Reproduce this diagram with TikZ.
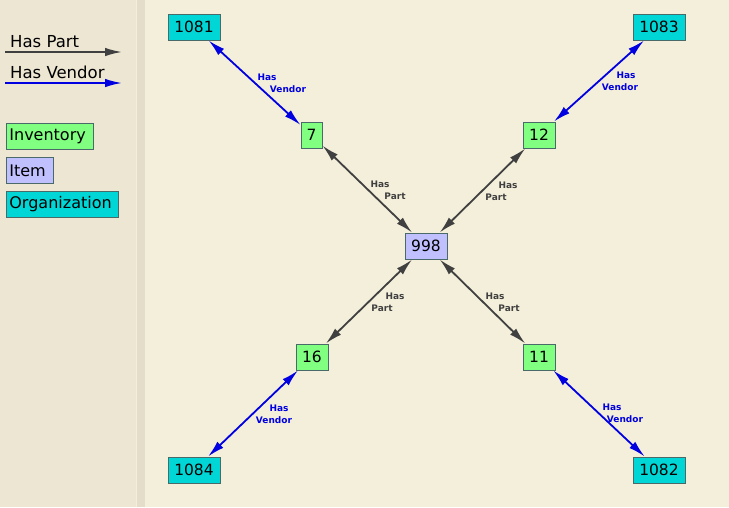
\documentclass[tikz,border=0pt]{standalone}
\usepackage{fontspec}
\setmainfont{DejaVu Sans}
\usetikzlibrary{arrows.meta}
\definecolor{panelbg}{HTML}{EDE6D2}
\definecolor{stripbg}{HTML}{E4DDC9}
\definecolor{mainbg}{HTML}{F4EFDA}
\definecolor{invgreen}{HTML}{80FF80}
\definecolor{itemblue}{HTML}{C0C0FF}
\definecolor{orgcyan}{HTML}{00D6D6}
\definecolor{partgray}{HTML}{404040}
\definecolor{vendblue}{HTML}{0000E0}
\definecolor{boxedge}{HTML}{4A6A6A}
\tikzset{
  nbox/.style={draw=boxedge, line width=0.8pt, inner sep=0pt, minimum height=26pt,
    font=\fontsize{15.5}{17}\selectfont, text=black},
  inv/.style={nbox, fill=invgreen},
  itm/.style={nbox, fill=itemblue},
  org/.style={nbox, fill=orgcyan, minimum width=52pt},
  partedge/.style={draw=partgray, line width=1.8pt, {Latex[length=17pt,width=8.5pt]}-{Latex[length=17pt,width=8.5pt]}},
  vendedge/.style={draw=vendblue, line width=1.8pt, {Latex[length=17pt,width=8.5pt]}-{Latex[length=17pt,width=8.5pt]}},
  elab/.style={font=\bfseries\fontsize{9}{10}\selectfont, inner sep=0pt},
  plab/.style={elab, text=partgray},
  vlab/.style={elab, text=vendblue},
  legtext/.style={font=\fontsize{16.5}{18}\selectfont, anchor=base west, inner sep=0pt, text=black},
  legbox/.style={nbox, anchor=north west, minimum height=26pt, font=\fontsize{16}{18}\selectfont, text width=#1, inner xsep=3pt, align=left},
}
\begin{document}
\begin{tikzpicture}[x=1pt,y=-1pt]
\useasboundingbox (0,0) rectangle (729,507);
\fill[mainbg] (0,0) rectangle (729,507);
\fill[panelbg] (0,0) rectangle (136,507);
\fill[stripbg] (137,0) rectangle (145,507);
% legend
\node[legtext] (lp) at (10,47) {Has Part};
\coordinate (lp1) at (5,52);
\coordinate (lp2) at (122,52);
\draw[draw=partgray, line width=1.8pt, -{Latex[length=17pt,width=8.5pt]}] (lp1) -- (lp2);
\node[legtext] (lv) at (10,78) {Has Vendor};
\coordinate (lv1) at (5,83);
\coordinate (lv2) at (122,83);
\draw[draw=vendblue, line width=1.8pt, -{Latex[length=17pt,width=8.5pt]}] (lv1) -- (lv2);
\node[legbox=81pt, fill=invgreen] (lgi) at (6,123) {Inventory};
\node[legbox=41pt, fill=itemblue] (lgt) at (6,157) {Item};
\node[legbox=106pt, fill=orgcyan] (lgo) at (6,191) {Organization};
% nodes
\node[org] (n1081) at (194,27) {1081};
\node[org] (n1083) at (659,27) {1083};
\node[org] (n1084) at (194,470) {1084};
\node[org] (n1082) at (659,470) {1082};
\node[inv, minimum width=21pt] (n7) at (311.5,135) {7};
\node[inv, minimum width=32pt] (n12) at (539,135) {12};
\node[inv, minimum width=32pt] (n16) at (312,357) {16};
\node[inv, minimum width=32pt] (n11) at (539,357) {11};
\node[itm, minimum width=42pt] (n998) at (426,246) {998};
% edges
\draw[vendedge] (n1081) -- (n7);
\draw[vendedge] (n1083) -- (n12);
\draw[vendedge] (n1084) -- (n16);
\draw[vendedge] (n1082) -- (n11);
\draw[partedge] (n7) -- (n998);
\draw[partedge] (n12) -- (n998);
\draw[partedge] (n16) -- (n998);
\draw[partedge] (n11) -- (n998);
% edge labels
\node[plab] (l1a) at (380,184) {Has};
\node[plab] (l1b) at (395,196) {Part};
\node[plab] (l2a) at (508,185) {Has};
\node[plab] (l2b) at (496,197) {Part};
\node[plab] (l3a) at (395,296) {Has};
\node[plab] (l3b) at (382,308) {Part};
\node[plab] (l4a) at (495,296) {Has};
\node[plab] (l4b) at (509,308) {Part};
\node[vlab] (v1a) at (267,77) {Has};
\node[vlab] (v1b) at (288,89) {Vendor};
\node[vlab] (v2a) at (626,75) {Has};
\node[vlab] (v2b) at (620,87) {Vendor};
\node[vlab] (v3a) at (279,408) {Has};
\node[vlab] (v3b) at (274,420) {Vendor};
\node[vlab] (v4a) at (612,407) {Has};
\node[vlab] (v4b) at (625,419) {Vendor};
\end{tikzpicture}
\end{document}
